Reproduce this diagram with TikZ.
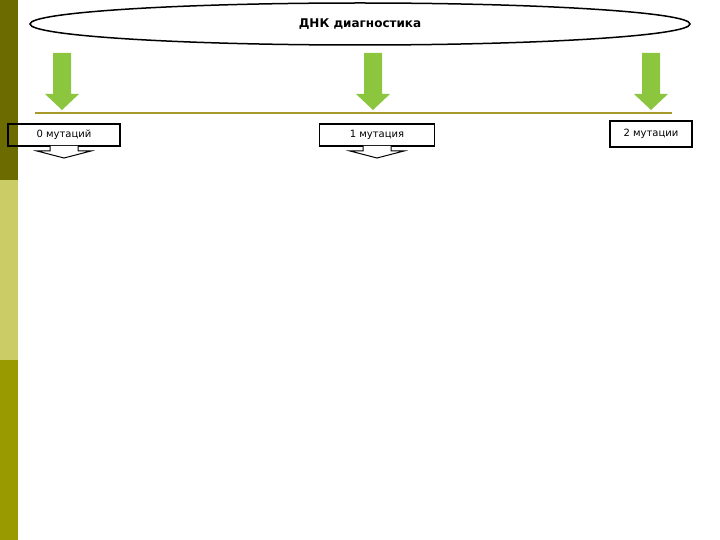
\documentclass[tikz,border=0pt]{standalone}
\usepackage{fontspec}
\setmainfont{DejaVu Sans}
\usetikzlibrary{shapes.geometric}
\definecolor{barA}{HTML}{6B6B00}
\definecolor{barB}{HTML}{CCCC66}
\definecolor{barC}{HTML}{999900}
\definecolor{grn}{HTML}{8CC63F}
\definecolor{oli}{HTML}{A89A2A}
\tikzset{x=1pt,y=-1pt,
 mbox/.style={draw,line width=1.2pt,minimum height=22pt,inner sep=2pt,font=\fontsize{10}{12}\selectfont},
 garrow/.style={fill=grn},
 warrow/.style={draw,fill=white,line width=1pt}}
\begin{document}
\begin{tikzpicture}
\useasboundingbox (0,0) rectangle (720,540);
\fill[barA] (0,0) rectangle (18,180);
\fill[barB] (0,180) rectangle (18,360);
\fill[barC] (0,360) rectangle (18,540);
\node[ellipse,draw,line width=1.5pt,minimum width=660pt,minimum height=42pt,font=\bfseries\fontsize{12}{14}\selectfont] (e) at (360,24) {ДНК диагностика};
\foreach \xx/\n in {62/a,373/b,651/c}{
 \fill[garrow] (\xx-9,53) -- (\xx+9,53) -- (\xx+9,94) -- (\xx+17,94) -- (\xx,110) -- (\xx-17,94) -- (\xx-9,94) -- cycle;
}
\draw[oli,line width=1.5pt] (35,113) coordinate (l1) -- (672,113) coordinate (l2);
\node[mbox,minimum width=112pt] (m0) at (64,135) {0 мутаций};
\node[mbox,minimum width=115pt] (m1) at (377,135) {1 мутация};
\node[mbox,minimum width=82pt,minimum height=26pt] (m2) at (651,134) {2 мутации};
\foreach \xx in {64,377}{
 \draw[warrow] (\xx-14,146) -- (\xx-14,151) -- (\xx-27,151) -- (\xx,158) -- (\xx+27,151) -- (\xx+14,151) -- (\xx+14,146);
}
\end{tikzpicture}
\end{document}
